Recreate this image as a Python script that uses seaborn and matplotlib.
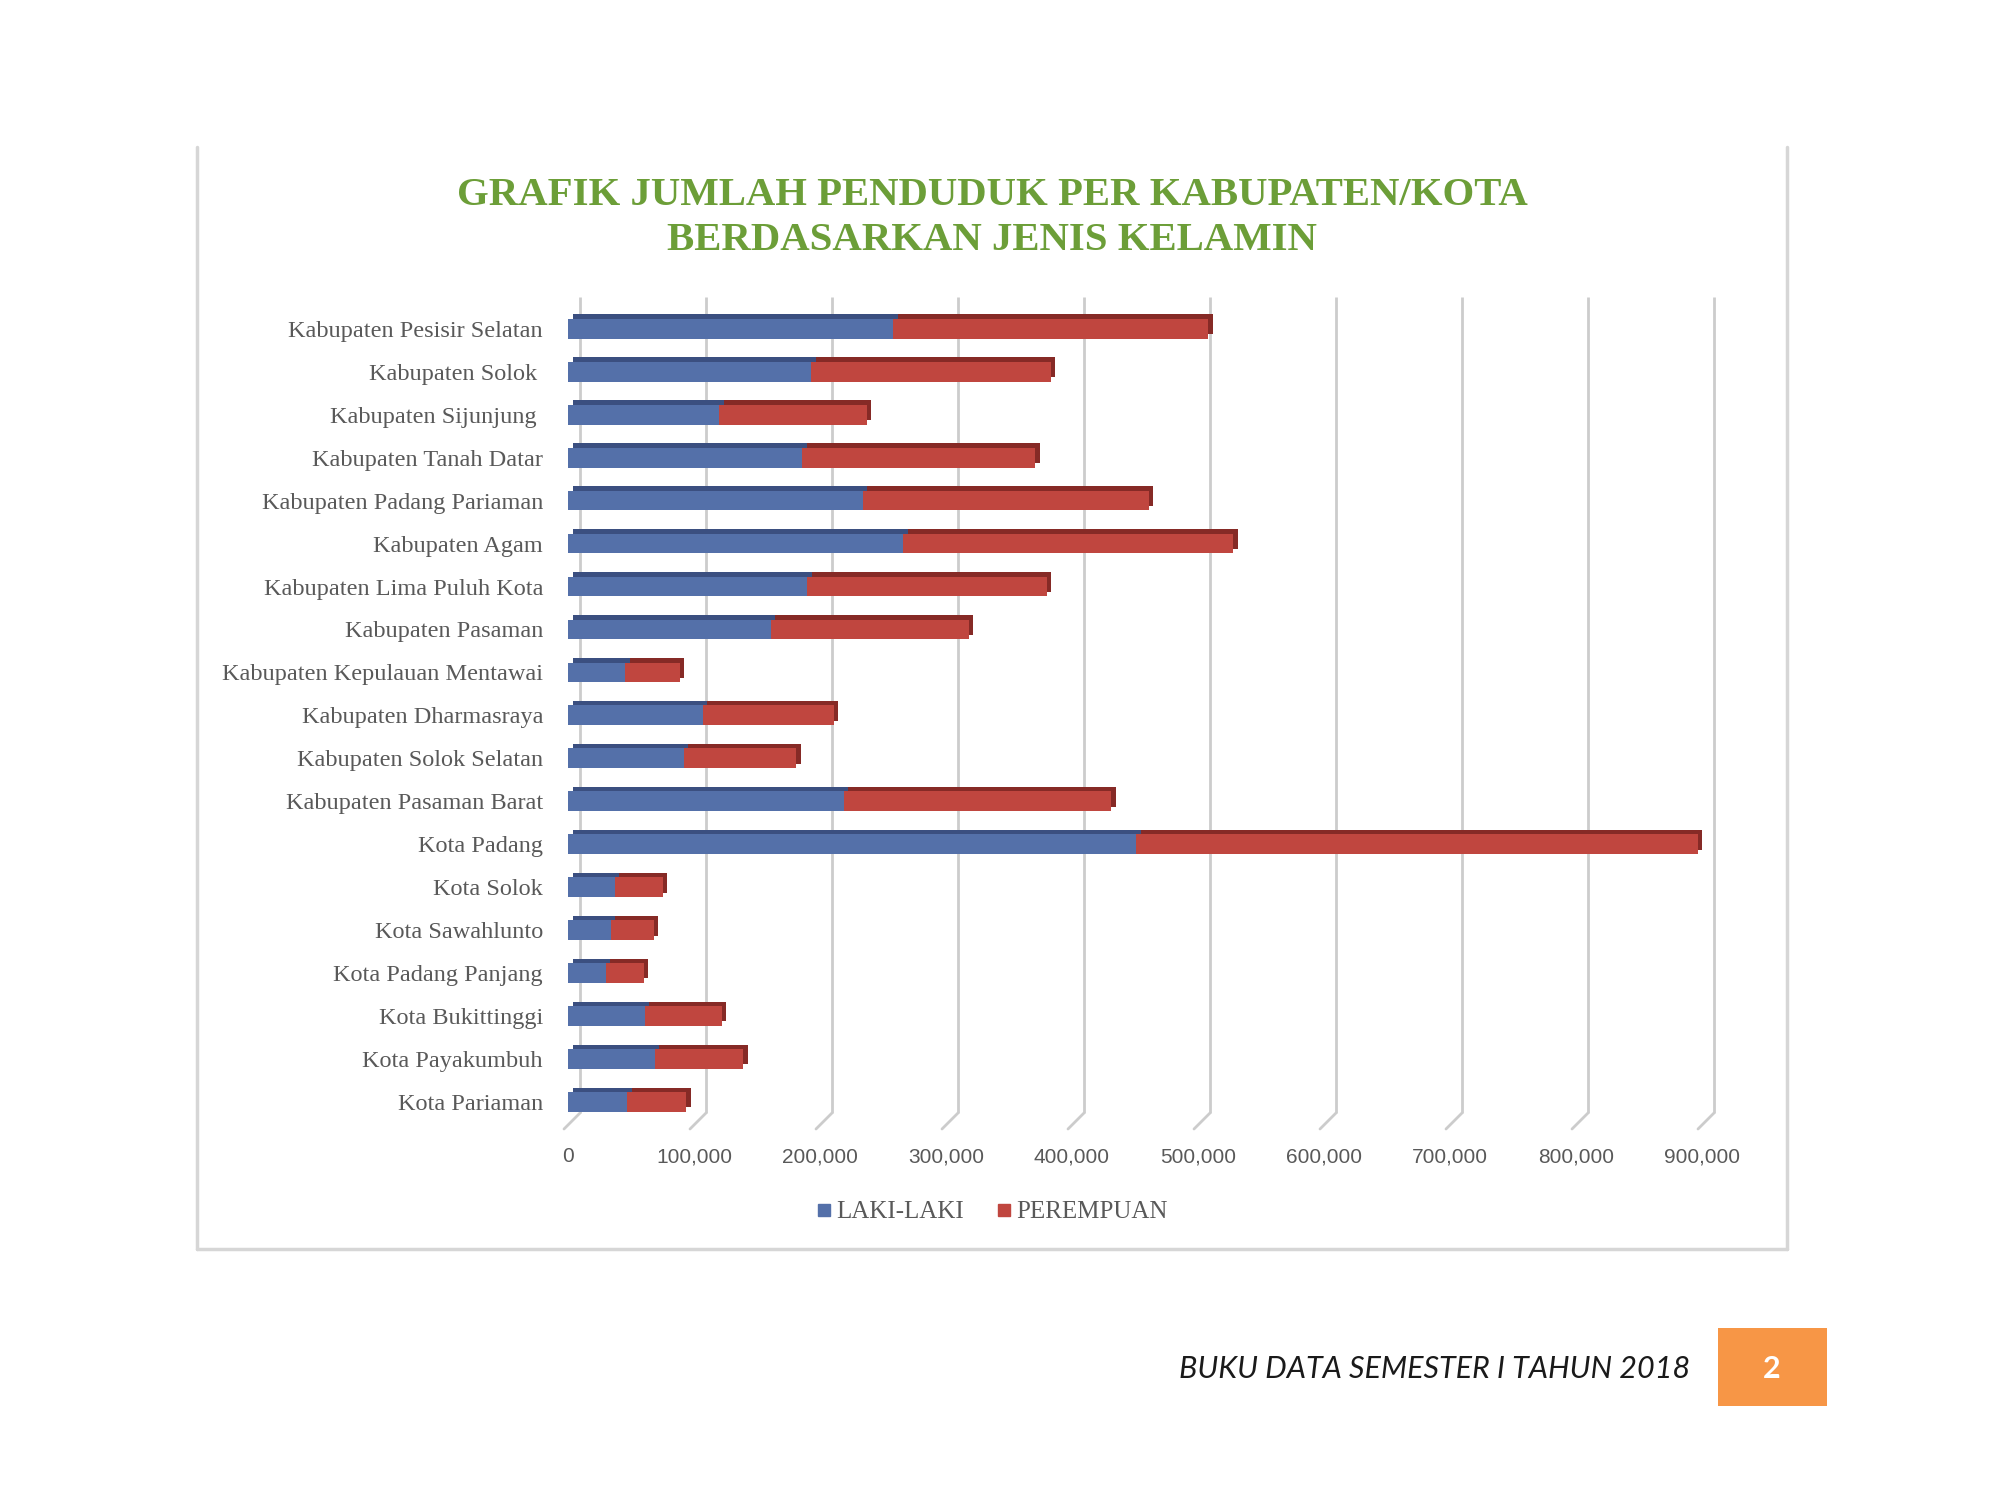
import numpy as np
import pandas as pd
import seaborn as sns
import matplotlib
matplotlib.use("Agg")
import matplotlib.pyplot as plt
import matplotlib.transforms as mtransforms
from matplotlib.patches import Rectangle
from matplotlib.lines import Line2D

# ---------------- data ----------------
categories = [
    "Kabupaten Pesisir Selatan", "Kabupaten Solok ", "Kabupaten Sijunjung ",
    "Kabupaten Tanah Datar", "Kabupaten Padang Pariaman", "Kabupaten Agam",
    "Kabupaten Lima Puluh Kota", "Kabupaten Pasaman", "Kabupaten Kepulauan Mentawai",
    "Kabupaten Dharmasraya", "Kabupaten Solok Selatan", "Kabupaten Pasaman Barat",
    "Kota Padang", "Kota Solok", "Kota Sawahlunto", "Kota Padang Panjang",
    "Kota Bukittinggi", "Kota Payakumbuh", "Kota Pariaman",
]
laki_laki = [258000, 193000, 120000, 186000, 234000, 266000, 190000, 161000, 45500,
             107000, 92000, 219000, 451000, 37000, 34000, 30000, 61000, 69000, 47000]
perempuan = [250000, 190000, 117000, 185000, 227000, 262000, 190000, 157000, 43200,
             104000, 89000, 212000, 446000, 38000, 34000, 30000, 61000, 70000, 47000]
x_ticks = [0, 100000, 200000, 300000, 400000, 500000, 600000, 700000, 800000, 900000]
series_names = ["LAKI-LAKI", "PEREMPUAN"]
title_text = "GRAFIK JUMLAH PENDUDUK PER KABUPATEN/KOTA\nBERDASARKAN JENIS KELAMIN"
footer_text = "BUKU DATA SEMESTER I TAHUN 2018"
page_number = "2"

df = pd.DataFrame({"kategori": categories, "laki": laki_laki, "perempuan": perempuan})
df["total"] = df["laki"] + df["perempuan"]

# ---------------- style ----------------
BLUE, BLUE_D = "#5470a9", "#3b4f80"
RED, RED_D = "#c0463f", "#862a26"
GRID = "#cccccc"
TXT = "#595959"
GREEN = "#6c9e38"

sns.set_theme(style="white")
plt.rcParams["font.family"] = ["Liberation Serif", "DejaVu Serif"]

W, H, DPI = 2000, 1500, 100
fig = plt.figure(figsize=(W / DPI, H / DPI), dpi=DPI)
fig.patch.set_facecolor("white")

ax_left, ax_right = 568, 568 + 1134
ax_top, ax_bottom = 297, 1129
ax = fig.add_axes([ax_left / W, 1 - ax_bottom / H, (ax_right - ax_left) / W, (ax_bottom - ax_top) / H])
ax.set_facecolor("none")

bar_w = 0.46
sns.barplot(data=df, x="total", y="kategori", color=RED, width=bar_w, saturation=1,
            ax=ax, zorder=3, linewidth=0)
n_red = len(ax.patches)
sns.barplot(data=df, x="laki", y="kategori", color=BLUE, width=bar_w, saturation=1,
            ax=ax, zorder=4, linewidth=0)

ax.set_xlim(0, 900000)
ax.set_ylim(18.63, -0.74)

# 3D-like depth: darker copies shifted up/right behind the front faces
depth = mtransforms.ScaledTranslation(4.5 / DPI, 4.5 / DPI, fig.dpi_scale_trans)
for i, p in enumerate(list(ax.patches)):
    is_red = i < n_red
    r = Rectangle(p.get_xy(), p.get_width(), p.get_height(),
                  facecolor=RED_D if is_red else BLUE_D, edgecolor="none",
                  transform=ax.transData + depth, zorder=1 if is_red else 2)
    ax.add_patch(r)
    p.set_zorder(3 if is_red else 4)

# back-plane gridlines and slanted floor ticks
blend = mtransforms.blended_transform_factory(ax.transData, ax.transAxes)
px2data = 900000 / (ax_right - ax_left)
floor = 16 / (ax_bottom - ax_top)
back_dx = 12
grid_shift = mtransforms.ScaledTranslation(back_dx / DPI, 0, fig.dpi_scale_trans)
ax.vlines(x_ticks, floor, 1.0, colors=GRID, linewidth=2.0,
          transform=blend + grid_shift, zorder=0, clip_on=False)
for t in x_ticks:
    ax.add_line(Line2D([t - 4 * px2data, t + back_dx * px2data], [0, floor],
                       color=GRID, linewidth=2.0, transform=blend, zorder=0, clip_on=False))

for s in ax.spines.values():
    s.set_visible(False)
ax.set_xlabel("")
ax.set_ylabel("")
ax.set_xticks(x_ticks)
ax.set_xticklabels([f"{v:,}" for v in x_ticks], fontfamily="Liberation Sans",
                   fontsize=15, color=TXT)
ax.tick_params(axis="x", length=0, pad=13)
ax.tick_params(axis="y", length=0, pad=18, labelsize=17.5, labelcolor=TXT)
ax.grid(False)

# legend
handles = [Line2D([], [], marker="s", linestyle="none", markersize=8,
                  markerfacecolor=c, markeredgecolor=c) for c in (BLUE, RED)]
fig.legend(handles, series_names, loc="center", bbox_to_anchor=(992 / W, 1 - 1212 / H),
           ncol=2, frameon=False, fontsize=18, handlelength=0.6, handletextpad=0.2,
           columnspacing=1.3, labelcolor=TXT)

# title
fig.text(992 / W, 1 - 218 / H, title_text, ha="center", va="center",
         fontsize=29.3, fontweight="bold", color=GREEN, linespacing=1.3)

# chart frame (left, right, bottom)
FR = "#d6d6d6"
x0, x1, y0, y1 = 197 / W, 1787 / W, 1 - 1249 / H, 1 - 147 / H
for xs, ys in (([x0, x0], [y0, y1]), ([x1, x1], [y0, y1]), ([x0, x1], [y0, y0])):
    fig.add_artist(Line2D(xs, ys, color=FR, linewidth=2.5, transform=fig.transFigure))

# footer
fig.text(1690 / W, 1 - 1369 / H, footer_text, ha="right", va="center",
         fontsize=22, fontstyle="italic", fontfamily="Lato", color="#1a1a1a")
fig.add_artist(Rectangle((1718 / W, 1 - 1406 / H), 109 / W, 78 / H,
                         facecolor="#f79646", edgecolor="none", transform=fig.transFigure))
fig.text(1772 / W, 1 - 1369 / H, page_number, ha="center", va="center",
         fontsize=22, fontweight="bold", fontfamily="Lato", color="white")

fig.savefig("out.png", dpi=DPI, facecolor="white")
